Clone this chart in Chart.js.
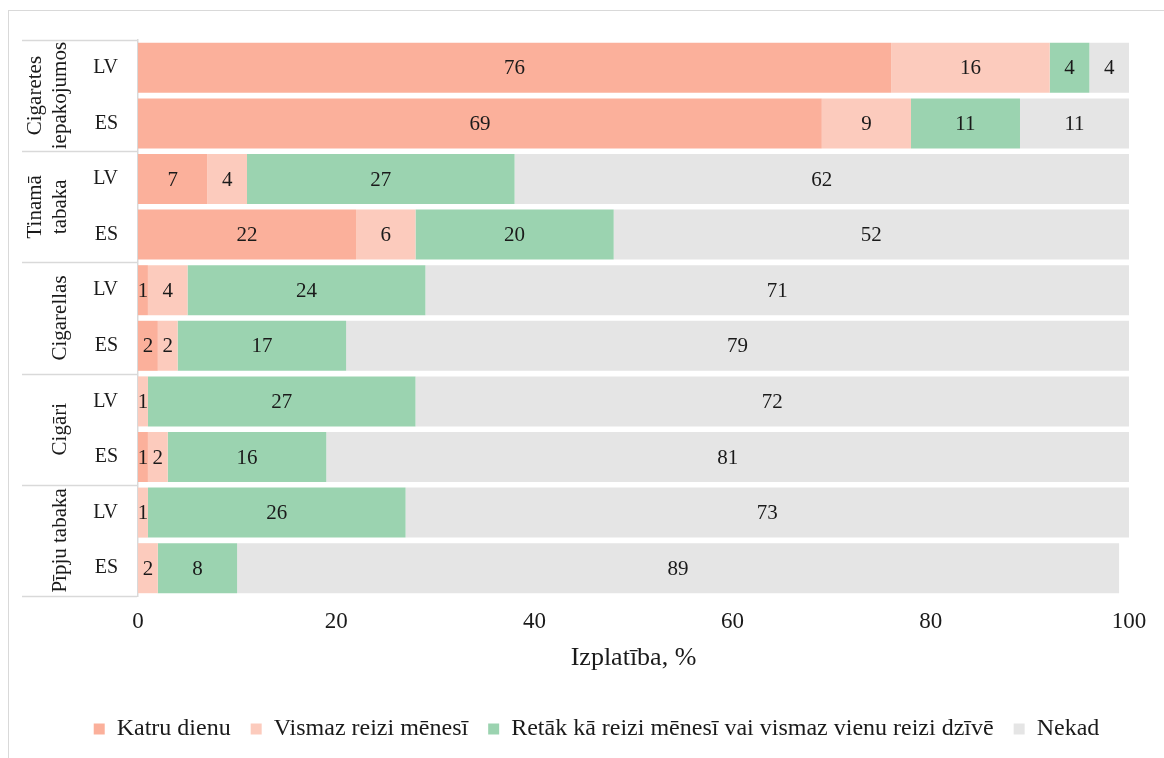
<!DOCTYPE html>
<html>
<head>
<meta charset="utf-8">
<script src="https://cdn.jsdelivr.net/npm/chart.js@4"></script>
<style>
  body { margin: 0; background: #fff; }
  #frame { position: absolute; left: 8px; top: 10px; width: 1170px; height: 770px; border: 1px solid #d9d9d9; }
  #chart { position: absolute; left: 0; top: 0; }
</style>
</head>
<body>
<div id="frame"></div>
<canvas id="chart" width="1164" height="758"></canvas>
<script>
// -------------------- data --------------------//
var groupLines = [['Cigaretes', 'iepakojumos'], ['Tinamā', 'tabaka'], ['Cigarellas'], ['Cigāri'], ['Pīpju tabaka']];
var rows = ['LV', 'ES', 'LV', 'ES', 'LV', 'ES', 'LV', 'ES', 'LV', 'ES'];
var katruDienu = [76, 69, 7, 22, 1, 2, 0, 1, 0, 0];
var vismazMenesi = [16, 9, 4, 6, 4, 2, 1, 2, 1, 2];
var retak = [4, 11, 27, 20, 24, 17, 27, 16, 26, 8];
var nekad = [4, 11, 62, 52, 71, 79, 72, 81, 73, 89];
var xTicks = [0, 20, 40, 60, 80, 100];

var FONT = '"Liberation Serif", "Times New Roman", serif';
var LINE = '#d9d9d9';

// numbers in the middle of each segment
var valueLabels = {
    id: 'valueLabels',
    afterDatasetsDraw: function (chart) {
        var ctx = chart.ctx;
        ctx.save();
        ctx.font = '21px ' + FONT;
        ctx.fillStyle = '#1a1a1a';
        ctx.textAlign = 'center';
        ctx.textBaseline = 'middle';
        chart.data.datasets.forEach(function (ds, i) {
            chart.getDatasetMeta(i).data.forEach(function (bar, j) {
                var v = ds.data[j];
                if (!v) return;
                ctx.fillText(v, (bar.x + bar.base) / 2, bar.y + 1);
            });
        });
        ctx.restore();
    }
};

// category groups on the left, like excel multi-level labels
var groupAxis = {
    id: 'groupAxis',
    afterDraw: function (chart) {
        var ctx = chart.ctx;
        var y = chart.scales.y;
        var left = 22, right = chart.chartArea.left - 1;
        var step = (y.bottom - y.top) / rows.length;
        ctx.save();
        ctx.strokeStyle = LINE;
        ctx.lineWidth = 1.5;
        for (var k = 0; k <= groupLines.length; k++) {
            var yy = Math.round(y.top + k * 2 * step) + 0.5;
            ctx.beginPath();
            ctx.moveTo(left, yy);
            ctx.lineTo(right, yy);
            ctx.stroke();
        }
        ctx.font = '21px ' + FONT;
        ctx.fillStyle = '#1a1a1a';
        ctx.textAlign = 'center';
        ctx.textBaseline = 'middle';
        groupLines.forEach(function (lines, k) {
            var cy = y.top + (k * 2 + 1) * step;
            lines.forEach(function (txt, n) {
                var cx = 60 - (lines.length - 1 - n) * 25;
                ctx.save();
                ctx.translate(cx, cy);
                ctx.rotate(-Math.PI / 2);
                ctx.fillText(txt, 0, 0);
                ctx.restore();
            });
        });
        ctx.restore();
    }
};

Chart.defaults.font.family = FONT;
Chart.defaults.font.size = 21;
Chart.defaults.color = '#1a1a1a';

var ctx = document.querySelector('#chart').getContext('2d');
var chart = new Chart(ctx, {
    type: 'bar',
    data: {
        labels: rows,
        datasets: [{
            label: 'Katru dienu',
            backgroundColor: '#fbb09b',
            data: katruDienu
        }, {
            label: 'Vismaz reizi mēnesī',
            backgroundColor: '#fccbbd',
            data: vismazMenesi
        }, {
            label: 'Retāk kā reizi mēnesī vai vismaz vienu reizi dzīvē',
            backgroundColor: '#9bd3b0',
            data: retak
        }, {
            label: 'Nekad',
            backgroundColor: '#e5e5e5',
            data: nekad
        }]
    },
    options: {
        responsive: false,
        animation: false,
        indexAxis: 'y',
        barPercentage: 0.9,
        categoryPercentage: 1,
        layout: { padding: { left: 64, top: 40, right: 35, bottom: 7 } },
        scales: {
            x: {
                stacked: true,
                min: 0,
                max: 100,
                afterBuildTicks: function (scale) {
                    scale.ticks = xTicks.map(function (v) { return { value: v }; });
                },
                grid: { display: false, drawTicks: false },
                border: { display: false },
                ticks: { padding: 14, font: { size: 23, lineHeight: 1 } },
                title: {
                    display: true,
                    text: 'Izplatība, %',
                    font: { size: 26, lineHeight: 1 },
                    padding: { top: -2, bottom: 26 }
                }
            },
            y: {
                stacked: true,
                afterFit: function (scale) { scale.width = 74; },
                grid: { display: false, drawTicks: false },
                border: { display: true, color: LINE, width: 1.5 },
                ticks: { padding: 20, font: { size: 20 } }
            }
        },
        plugins: {
            legend: {
                position: 'bottom',
                labels: { boxWidth: 11, boxHeight: 11, padding: 20, font: { size: 24 } }
            },
            tooltip: { enabled: false }
        }
    },
    plugins: [valueLabels, groupAxis]
});
</script>
</body>
</html>
